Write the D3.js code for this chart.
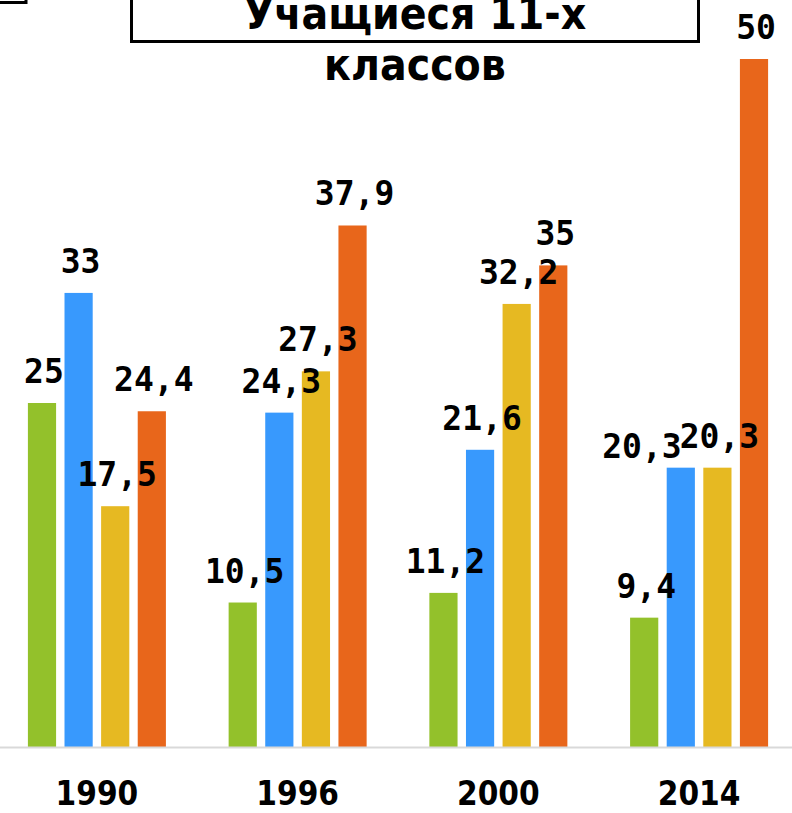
<!DOCTYPE html>
<html>
<head>
<meta charset="utf-8">
<script src="https://cdn.jsdelivr.net/npm/d3@7"></script>
<style>
  body { margin: 0; background: #fff; }
  svg { display: block; }
</style>
</head>
<body>
<svg></svg>
<script>
const svgWidth = 792;
const svgHeight = 813;

// data
const years = ["1990", "1996", "2000", "2014"];
const seriesNames = ["Ряд 1", "Ряд 2", "Ряд 3", "Ряд 4"];
const green = [25, 10.5, 11.2, 9.4];
const blue = [33, 24.3, 21.6, 20.3];
const yellow = [17.5, 27.3, 32.2, 20.3];
const orange = [24.4, 37.9, 35, 50];
const colors = ["#93c12b", "#3899fd", "#e6b922", "#e8661b"];
const titleLines = ["Учащиеся 11-х", "классов"];

const seriesValues = [green, blue, yellow, orange];
const rows = years.map((y, i) => ({
  year: y,
  values: seriesNames.map((s, j) => ({ series: s, value: seriesValues[j][i], idx: j }))
}));

const svg = d3.select("svg")
  .attr("width", svgWidth)
  .attr("height", svgHeight);

const baseY = 747;

const x0 = d3.scaleBand()
  .domain(years)
  .range([0, 796])
  .paddingInner(0.3125)
  .paddingOuter(0.139);

const x1 = d3.scaleBand()
  .domain(seriesNames)
  .range([0, x0.bandwidth()])
  .paddingInner(0.23);

const yScale = d3.scaleLinear()
  .domain([0, 50])
  .range([baseY, 59]);

const fmt = v => String(v).replace(".", ",");

// bars
const groups = svg.selectAll("g.group")
  .data(rows)
  .enter()
  .append("g")
  .attr("class", "group")
  .attr("transform", d => `translate(${x0(d.year)},0)`);

groups.selectAll("rect")
  .data(d => d.values)
  .enter()
  .append("rect")
  .attr("x", d => x1(d.series))
  .attr("width", x1.bandwidth())
  .attr("y", d => yScale(d.value))
  .attr("height", d => baseY - yScale(d.value))
  .attr("fill", d => colors[d.idx]);

// value labels
groups.each(function (row) {
  const g = d3.select(this);
  const labels = g.selectAll("text.val")
    .data(row.values)
    .enter()
    .append("text")
    .attr("class", "val")
    .text(d => fmt(d.value))
    .attr("x", d => x1(d.series) + x1.bandwidth() / 2 + 2)
    .attr("y", d => yScale(d.value) - 20)
    .attr("text-anchor", "middle")
    .attr("font-family", "'DejaVu Sans Mono', monospace")
    .attr("font-weight", "bold")
    .attr("font-size", "33px")
    .attr("fill", "#000");

  // nudge a label away when it collides with its right neighbour
  const nodes = labels.nodes();
  for (let i = nodes.length - 2; i >= 0; i--) {
    const a = nodes[i], b = nodes[i + 1];
    const ba = a.getBBox(), bb = b.getBBox();
    const hOver = ba.x + ba.width - bb.x;
    const vOver = Math.abs(ba.y - bb.y) < ba.height * 0.8;
    if (hOver > 0 && vOver) {
      a.setAttribute("x", +a.getAttribute("x") - hOver + 2);
      a.setAttribute("y", +a.getAttribute("y") + 10);
    }
  }
});

// x axis
const xAxis = d3.axisBottom(x0).tickSize(0).tickPadding(0);
const axisG = svg.append("g")
  .attr("transform", `translate(0,${baseY})`)
  .call(xAxis);
axisG.select(".domain").remove();
axisG.selectAll("text")
  .attr("dy", "0")
  .attr("y", 58)
  .attr("font-family", "'DejaVu Sans Condensed', 'DejaVu Sans', sans-serif")
  .attr("font-weight", "bold")
  .attr("font-size", "33px")
  .attr("fill", "#000");

svg.append("line")
  .attr("x1", 0)
  .attr("x2", svgWidth)
  .attr("y1", baseY + 0.5)
  .attr("y2", baseY + 0.5)
  .attr("stroke", "#d9d9d9")
  .attr("stroke-width", 2);

// title box
svg.append("rect")
  .attr("x", 131.5)
  .attr("y", -20)
  .attr("width", 567)
  .attr("height", 61.5)
  .attr("fill", "none")
  .attr("stroke", "#000")
  .attr("stroke-width", 3);

svg.selectAll("text.title")
  .data(titleLines)
  .enter()
  .append("text")
  .attr("class", "title")
  .text(d => d)
  .attr("x", 415)
  .attr("y", (d, i) => 29 + i * 51)
  .attr("text-anchor", "middle")
  .attr("font-family", "'DejaVu Sans Condensed', 'DejaVu Sans', sans-serif")
  .attr("font-weight", "bold")
  .attr("font-size", "44px")
  .attr("fill", "#000");

// cut-off legend box corner at top left
svg.append("rect")
  .attr("x", -10)
  .attr("y", -20)
  .attr("width", 36)
  .attr("height", 22.5)
  .attr("fill", "none")
  .attr("stroke", "#000")
  .attr("stroke-width", 3);
</script>
</body>
</html>
